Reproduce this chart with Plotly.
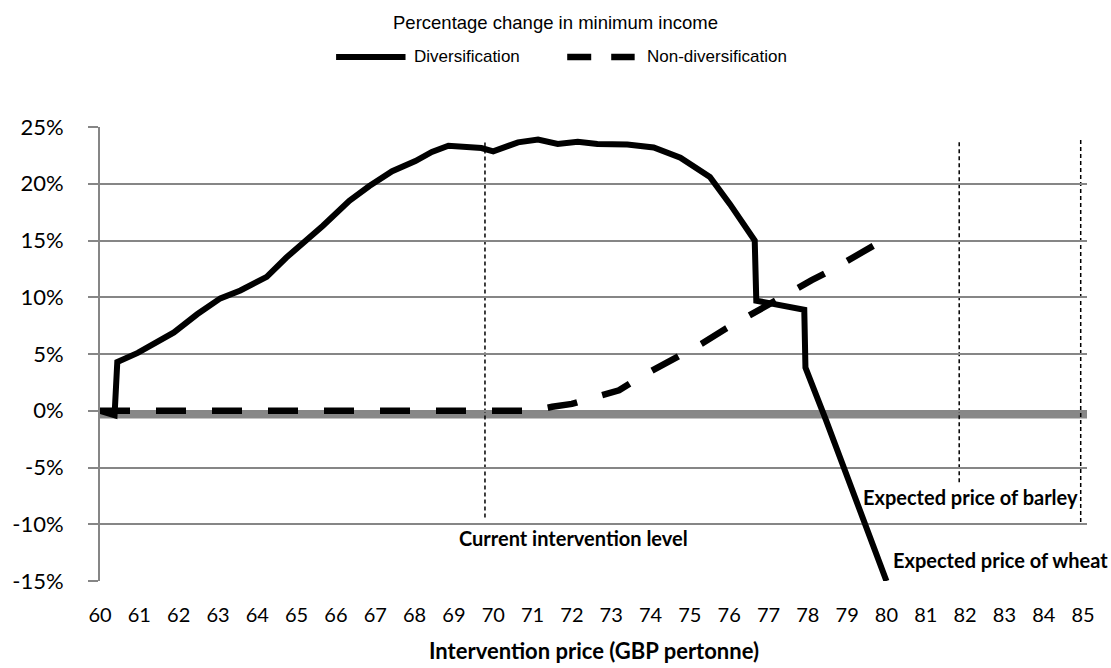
import plotly.graph_objects as go

# ---- data ----
div_x = [60.0, 60.37, 60.44, 60.96, 61.88, 62.47, 63.06, 63.57, 64.24, 64.74, 65.67, 66.34,
         66.85, 67.43, 68.02, 68.44, 68.86, 69.45, 69.7, 70.0, 70.63, 71.14, 71.64, 72.15,
         72.65, 73.41, 74.08, 74.76, 75.51, 76.02, 76.65, 76.69, 77.03, 77.91, 77.94, 78.46, 80.0]
div_y = [0.0, -0.4, 4.3, 5.1, 6.9, 8.5, 9.9, 10.6, 11.8, 13.5, 16.3, 18.5,
         19.8, 21.1, 22.0, 22.8, 23.35, 23.3, 23.15, 22.85, 23.65, 23.9, 23.5, 23.7,
         23.5, 23.45, 23.2, 22.3, 20.6, 18.2, 15.0, 9.7, 9.5, 8.9, 3.8, -0.8, -15.0]

nd_x = [60.0, 71.0, 71.5, 72.0, 72.5, 73.2, 73.7, 74.2, 74.8, 75.3, 75.9, 76.4, 77.0,
        77.5, 78.1, 78.6, 79.2, 79.7]
nd_y = [0.0, 0.0, 0.35, 0.6, 1.1, 1.8, 2.9, 3.8, 5.0, 5.9, 7.2, 8.2, 9.3,
        10.3, 11.5, 12.4, 13.6, 14.6]

x_ticks = list(range(60, 86))
x_labels = [str(v) for v in x_ticks]
y_ticks = [-15, -10, -5, 0, 5, 10, 15, 20, 25]
y_labels = ["-15%", "-10%", "-5%", "0%", "5%", "10%", "15%", "20%", "25%"]

ref_lines = [  # (x, top, bottom) in data units
    (69.79, 23.9, -9.4),
    (81.85, 23.9, -6.3),
    (84.94, 23.9, -9.8),
]
ref_labels = [
    ("Current intervention level", 72.03, -11.24),
    ("Expected price of barley", 82.14, -7.63),
    ("Expected price of wheat", 82.89, -13.18),
]

series_names = ["Diversification", "Non-diversification"]

CAL = "Lato, Carlito, Calibri, sans-serif"
XTICKFONT = dict(family=CAL, size=20, color="#000000")
YTICKFONT = dict(family=CAL, size=22, color="#000000")
BOLDFONT = dict(family=CAL, size=20, color="#000000", weight="bold")
GRAY = "#868686"

fig = go.Figure()
fig.add_trace(go.Scatter(x=div_x, y=div_y, mode="lines", name=series_names[0],
                         line=dict(color="black", width=6), showlegend=False))
fig.add_trace(go.Scatter(x=nd_x, y=nd_y, mode="lines", name=series_names[1],
                         line=dict(color="black", width=6.5, dash="30px,26px"), showlegend=False))

shapes = []
# thick horizontal axis line at zero
shapes.append(dict(type="line", xref="x", yref="y", x0=60, x1=85.1, y0=-0.34, y1=-0.34,
                   line=dict(color="#878787", width=8), layer="below"))
for xv, top, bot in ref_lines:
    shapes.append(dict(type="line", xref="x", yref="y", x0=xv, x1=xv, y0=bot, y1=top,
                       line=dict(color="black", width=1.5, dash="4px,3px"), layer="below"))

# legend (drawn manually to match the long sample lines)
PW = 995.0
def px(p):
    return (p - 92) / PW
LEG_Y = 1.1542
shapes.append(dict(type="line", xref="paper", yref="paper", x0=px(330), x1=px(400),
                   y0=LEG_Y, y1=LEG_Y, line=dict(color="black", width=6)))
shapes.append(dict(type="line", xref="paper", yref="paper", x0=px(563), x1=px(631),
                   y0=LEG_Y, y1=LEG_Y, line=dict(color="black", width=6.5, dash="24px,20px")))

annotations = []
for txt, xv, yv in ref_labels:
    annotations.append(dict(text=txt, x=xv, y=yv, xref="x", yref="y", showarrow=False,
                            font=BOLDFONT, xanchor="center", yanchor="middle"))
LEGFONT = dict(family="Liberation Sans, Arial, sans-serif", size=17, color="#000000")
annotations.append(dict(text=series_names[0], x=px(407), y=LEG_Y, xref="paper", yref="paper",
                        showarrow=False, font=LEGFONT, xanchor="left", yanchor="middle"))
annotations.append(dict(text=series_names[1], x=px(641), y=LEG_Y, xref="paper", yref="paper",
                        showarrow=False, font=LEGFONT, xanchor="left", yanchor="middle"))
annotations.append(dict(text="Intervention price (GBP pertonne)", x=0.5, y=(668 - 87 - 650) / 454,
                        xref="paper", yref="paper", showarrow=False,
                        font=dict(family=CAL, size=22, color="#000000", weight="bold"),
                        xanchor="center", yanchor="middle"))

fig.update_layout(
    width=1111, height=668,
    margin=dict(l=92, r=24, t=127, b=87),
    paper_bgcolor="white", plot_bgcolor="white",
    title=dict(text="Percentage change in minimum income", x=0.5, xref="container",
               y=1 - 23 / 668, yref="container", xanchor="center", yanchor="middle",
               font=dict(family="Liberation Sans, Arial, sans-serif", size=18.5, color="#000000")),
    shapes=shapes, annotations=annotations,
    xaxis=dict(range=[60, 85.1], tickvals=x_ticks, ticktext=x_labels, showgrid=False,
               showline=False, zeroline=False, ticks="", tickfont=XTICKFONT,
               ticklabelstandoff=20),
    yaxis=dict(range=[-15, 25], tickvals=y_ticks, ticktext=y_labels, showgrid=True,
               gridcolor=GRAY, gridwidth=1.5, showline=True, linecolor=GRAY, linewidth=2,
               zeroline=False, ticks="outside", ticklen=10, tickcolor=GRAY, tickwidth=1.5,
               tickfont=YTICKFONT, ticklabelstandoff=20),
)

fig.write_html("out.html", config={"displayModeBar": False},
               post_script="document.body.style.margin='0';")
